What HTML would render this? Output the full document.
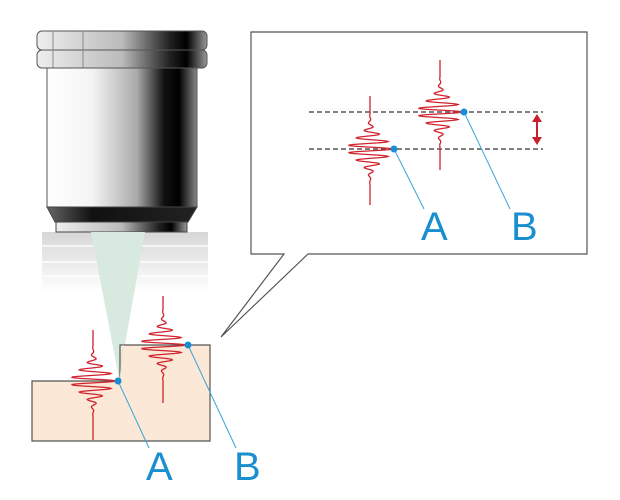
<!DOCTYPE html>
<html><head><meta charset="utf-8"><style>
html,body{margin:0;padding:0;background:#fff;width:620px;height:500px;overflow:hidden}
text{font-family:"Liberation Sans",sans-serif;fill:#1a8fd0}
</style></head><body>
<svg id="s" width="620" height="500" viewBox="0 0 620 500" xmlns="http://www.w3.org/2000/svg">
<defs>
<linearGradient id="body" x1="0" x2="1">
<stop offset="0" stop-color="#fff"/><stop offset="0.3" stop-color="#f4f4f4"/><stop offset="0.6" stop-color="#aaa"/><stop offset="0.78" stop-color="#111"/><stop offset="0.88" stop-color="#000"/><stop offset="1" stop-color="#888"/>
</linearGradient>
<linearGradient id="ring" x1="0" x2="1">
<stop offset="0" stop-color="#eee"/><stop offset="0.5" stop-color="#bbb"/><stop offset="0.78" stop-color="#222"/><stop offset="0.88" stop-color="#000"/><stop offset="1" stop-color="#999"/>
</linearGradient>
<linearGradient id="dark" x1="0" x2="1">
<stop offset="0" stop-color="#666"/><stop offset="0.3" stop-color="#111"/><stop offset="1" stop-color="#222"/>
</linearGradient>
<linearGradient id="fade" x1="0" y1="0" x2="0" y2="1">
<stop offset="0" stop-color="#ccc"/><stop offset="1" stop-color="#fff"/>
</linearGradient>
</defs>
<!-- faded stripes -->
<rect x="42" y="232" width="166" height="60" fill="url(#fade)" opacity="0.8"/>
<g stroke="#fff" stroke-width="2" opacity="0.7"><line x1="42" y1="246" x2="208" y2="246"/><line x1="42" y1="262" x2="208" y2="262"/><line x1="42" y1="276" x2="208" y2="276"/></g>
<!-- rings -->
<rect x="37" y="31" width="170" height="19" rx="5" fill="url(#ring)" stroke="#555"/>
<rect x="37" y="50" width="170" height="18" rx="5" fill="url(#ring)" stroke="#555"/>
<line x1="53" y1="31" x2="53" y2="68" stroke="#888"/><line x1="83" y1="31" x2="83" y2="68" stroke="#888"/>
<rect x="47" y="68" width="150" height="139" fill="url(#body)" stroke="#555"/>
<path d="M47 207 L197 207 L188 222 L55 222 Z" fill="url(#dark)" stroke="#444"/>
<rect x="56" y="222" width="131" height="10" fill="url(#ring)" stroke="#444"/>
<!-- cone -->
<path d="M91 232 L145 232 L119 378 Z" fill="#d8eadf"/>
<!-- sample -->
<path d="M32 381 L120 381 L120 345 L210 345 L210 441 L32 441 Z" fill="#fbe8d6" stroke="#555" stroke-width="1.2"/>
<path d="M120 381 L123 345" stroke="#d8eadf" stroke-width="1"/>
<g id="waves" fill="none" stroke="#d0232f" stroke-width="1.3"></g>
<!-- callout -->
<path d="M284 254 L251 254 L251 32 L587 32 L587 254 L308 254 L221 337 Z" fill="#fff" stroke="#555" stroke-width="1.2"/>
<g stroke="#555" stroke-width="1.5" stroke-dasharray="5,3"><line x1="309" y1="112" x2="543" y2="112"/><line x1="309" y1="149" x2="543" y2="149"/></g>
<g id="waves2" fill="none" stroke="#d0232f" stroke-width="1.3"></g>
<g stroke="#c8202c" stroke-width="2" fill="#c8202c"><line x1="537" y1="121" x2="537" y2="138"/><path d="M532 122 L537 114 L542 122Z" stroke="none"/><path d="M532 137 L537 145 L542 137Z" stroke="none"/></g>
<g stroke="#3aa3d8" stroke-width="1">
<line x1="118" y1="381" x2="149" y2="448"/><line x1="188" y1="345" x2="236" y2="448"/>
<line x1="394" y1="149" x2="424" y2="209"/><line x1="464" y1="112" x2="510" y2="209"/>
</g>
<g fill="#1a8fd0"><circle cx="118" cy="381" r="3.5"/><circle cx="188" cy="345" r="3.5"/><circle cx="394" cy="149" r="3.5"/><circle cx="464" cy="112" r="3.5"/></g>
<text x="146" y="480" font-size="40">A</text>
<text x="234" y="480" font-size="40">B</text>
<text x="421" y="240" font-size="40">A</text>
<text x="511" y="240" font-size="40">B</text>
</svg>
<script>
function wave(cx,cy,top,bot,amp){
  var d="M"+cx+" "+top+" L"+cx+" "+(cy-36);
  for(var y=cy-36;y<=cy+36;y+=0.5){
    var t=(y-cy)/16;var e=Math.exp(-t*t);
    var x=cx+amp*e*Math.sin((y-cy)*2*Math.PI/7.5+Math.PI/2)*0.9;
    d+=" L"+x.toFixed(2)+" "+y;
  }
  d+=" L"+cx+" "+bot;
  return '<path d="'+d+'"/>';
}
document.getElementById('waves').innerHTML=wave(93,381,330,440,25)+wave(163,345,296,403,25);
document.getElementById('waves2').innerHTML=wave(370,149,96,205,25)+wave(440,112,60,170,25);
</script>
</body></html>
